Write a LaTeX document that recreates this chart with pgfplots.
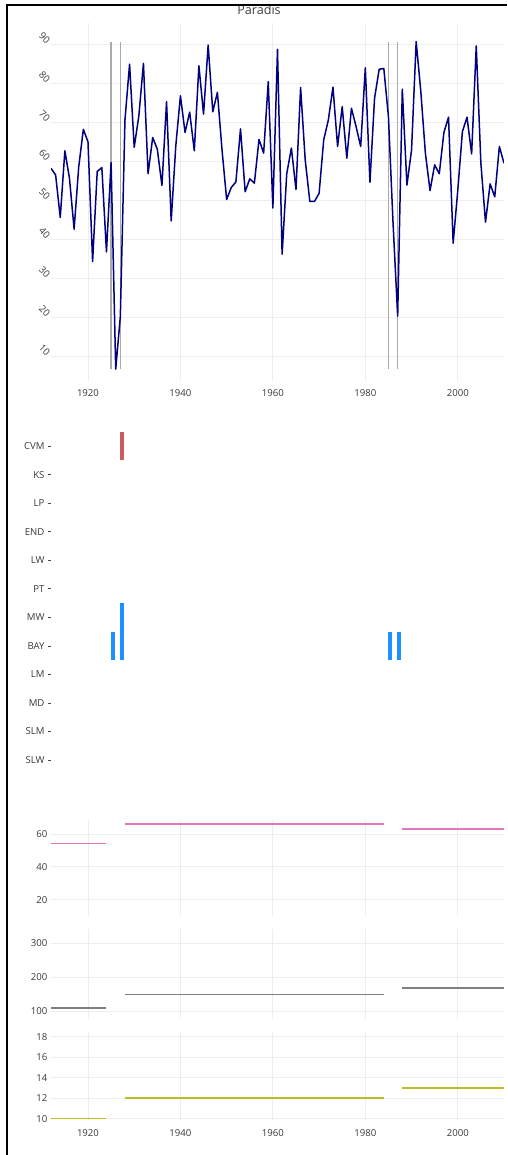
\documentclass[border=0pt]{standalone}
\usepackage{pgfplots}
\pgfplotsset{compat=1.18}
\usepackage{pgfplotstable}
\usepackage{fontspec}
\setmainfont{Open Sans}
\definecolor{navyc}{HTML}{000080}
\definecolor{vgray}{HTML}{AAAAAA}
\definecolor{txt}{HTML}{444444}
\definecolor{gridc}{HTML}{EEEEEE}
\definecolor{indred}{HTML}{CD5C5C}
\definecolor{dblue}{HTML}{1E90FF}
\definecolor{pinkc}{HTML}{E377C2}
\definecolor{grayc}{HTML}{7F7F7F}
\definecolor{olivec}{HTML}{BCBD22}

\pgfplotstableread{
year val
1912 58.2
1913 56.5
1914 45.6
1915 62.7
1916 55.6
1917 42.6
1918 58.6
1919 68.2
1920 65.0
1921 34.3
1922 57.4
1923 58.4
1924 36.8
1925 59.7
1926 6.7
1927 20.2
1928 70.6
1929 84.9
1930 63.6
1931 71.6
1932 85.1
1933 56.8
1934 66.1
1935 63.1
1936 53.8
1937 75.3
1938 44.7
1939 64.0
1940 76.8
1941 67.4
1942 72.6
1943 62.7
1944 84.5
1945 72.1
1946 89.8
1947 72.7
1948 77.7
1949 62.9
1950 50.2
1951 53.3
1952 54.7
1953 68.3
1954 52.2
1955 55.5
1956 54.4
1957 65.6
1958 62.1
1959 80.4
1960 48.0
1961 88.7
1962 36.2
1963 56.8
1964 63.4
1965 52.8
1966 78.9
1967 60.3
1968 49.7
1969 49.7
1970 51.8
1971 65.5
1972 70.6
1973 79.0
1974 63.8
1975 74.0
1976 60.8
1977 73.6
1978 68.9
1979 63.8
1980 84.0
1981 54.6
1982 76.2
1983 83.6
1984 83.8
1985 71.5
1986 44.1
1987 20.3
1988 78.5
1989 53.9
1990 62.9
1991 90.7
1992 78.0
1993 62.0
1994 52.5
1995 59.1
1996 56.8
1997 67.4
1998 71.3
1999 39.0
2000 52.5
2001 67.6
2002 71.3
2003 61.9
2004 89.6
2005 59.5
2006 44.4
2007 54.2
2008 50.9
2009 63.8
2010 59.5
}\flowdata

\pgfplotstableread{
x pink gray olive
1912 54.1 108.8 10
1924 54.1 108.8 10
1926 nan nan nan
1928 66.1 149.3 12
1984 66.1 149.3 12
1986 nan nan nan
1988 63.1 168.7 13
2010 63.1 168.7 13
}\periods

\pgfplotsset{
  base/.style={
    scale only axis, width=453pt, xmin=1912, xmax=2010,
    axis line style={draw=none},
    major tick length=0pt,
    grid=major, grid style={gridc, line width=0.8pt},
    ticklabel style={font=\fontsize{9.6}{10}\selectfont, text opacity=0.78},
    /pgf/number format/assume math mode=true,
    /pgf/number format/set thousands separator={},
    xtick={1920,1940,1960,1980,2000},
    unbounded coords=jump,
  },
}

\begin{document}
\begin{tikzpicture}
\path[use as bounding box] (0pt,0pt) rectangle (507pt,-1155pt);
\draw[black, line width=1.3pt] (7pt,-1155pt) -- (7pt,-5pt) -- (507pt,-5pt);
\node[text opacity=0.75, font=\fontsize{12.6}{14}\selectfont] at (259pt,-10pt) {Paradis};

% top line chart
\begin{axis}[base, at={(51pt,-381pt)}, anchor=south west, height=358pt,
  ymin=3.67, ymax=95.46, ytick={10,20,...,90},
  yticklabel style={rotate=-45, anchor=east},
  xticklabel style={yshift=-5pt}]
\addplot[draw=vgray, line width=1.4pt] coordinates {(1925,6.7) (1925,90.7)};
\addplot[draw=vgray, line width=1.4pt] coordinates {(1927,6.7) (1927,90.7)};
\addplot[draw=vgray, line width=1.4pt] coordinates {(1985,6.7) (1985,90.7)};
\addplot[draw=vgray, line width=1.4pt] coordinates {(1987,6.7) (1987,90.7)};
\addplot[draw=navyc, line width=1.5pt, line join=round] table[x=year, y=val] {\flowdata};
\end{axis}

% category panel
\begin{axis}[scale only axis, width=453pt, height=371pt, at={(51pt,-788.5pt)}, anchor=south west,
  xmin=1912, xmax=2010, ymin=-1, ymax=12, hide x axis,
  axis line style={draw=none},
  ytick={0,...,11}, ytick pos=left,
  yticklabels={SLW,SLM,MD,LM,BAY,MW,PT,LW,END,LP,KS,CVM},
  ytick align=outside, major tick length=3pt,
  y tick style={draw=txt, line width=0.6pt},
  ticklabel style={font=\fontsize{9.6}{10}\selectfont, text opacity=0.78},
  ]
\addplot[draw=dblue, line width=4.3pt] coordinates {(1925.38,3.5) (1925.38,4.5)};
\addplot[draw=dblue, line width=4.3pt] coordinates {(1927.32,3.5) (1927.32,5.5)};
\addplot[draw=dblue, line width=4.3pt] coordinates {(1985.35,3.5) (1985.35,4.5)};
\addplot[draw=dblue, line width=4.3pt] coordinates {(1987.35,3.5) (1987.35,4.5)};
\addplot[draw=indred, line width=4.3pt] coordinates {(1927.32,10.5) (1927.32,11.5)};
\end{axis}

% pink panel
\begin{axis}[base, at={(51pt,-916pt)}, anchor=south west, height=96pt,
  ymin=10, ymax=68.5, ytick={20,40,60}, xticklabels={}]
\addplot[draw=pinkc, line width=1.6pt] table[x=x, y=pink] {\periods};
\end{axis}

% gray panel
\begin{axis}[base, at={(51pt,-1019.3pt)}, anchor=south west, height=90.3pt,
  ymin=75.5, ymax=342, ytick={100,200,300}, xticklabels={}]
\addplot[draw=grayc, line width=1.6pt] table[x=x, y=gray] {\periods};
\end{axis}

% olive panel
\begin{axis}[base, at={(51pt,-1120pt)}, anchor=south west, height=87.7pt,
  ymin=9.86, ymax=18.43, ytick={10,12,...,18},
  xticklabel style={yshift=-6pt}]
\addplot[draw=olivec, line width=1.6pt] table[x=x, y=olive] {\periods};
\end{axis}
\end{tikzpicture}
\end{document}
